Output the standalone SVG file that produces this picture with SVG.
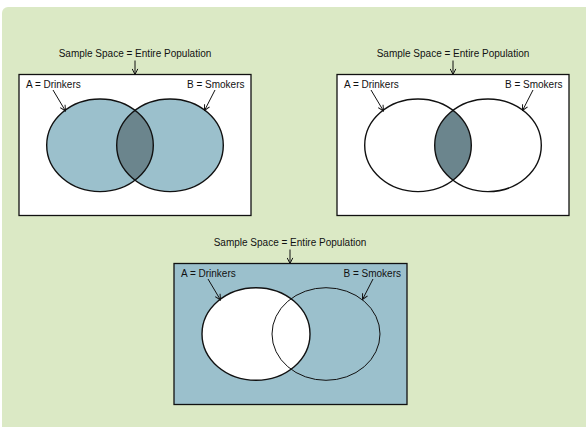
<svg xmlns="http://www.w3.org/2000/svg" width="586" height="427" viewBox="0 0 586 427">
<style>
text{font-family:"Liberation Sans",Arial,sans-serif;font-size:10px;fill:#111}
.frame{stroke:#111;stroke-width:1.3}
.ell{stroke:#111;stroke-width:1.4}
.thin{stroke:#111;stroke-width:1;fill:none}
.arr{stroke:#111;stroke-width:1;fill:none;marker-end:url(#ah)}
</style>
<defs>
<marker id="ah" viewBox="0 0 10 10" refX="9" refY="5" markerWidth="7" markerHeight="7" orient="auto" markerUnits="userSpaceOnUse">
<path d="M1,1 L9,5 L1,9" fill="none" stroke="#111" stroke-width="1.4"/>
</marker>
<clipPath id="c1"><ellipse cx="100" cy="145.3" rx="53.3" ry="46.3"/></clipPath>
<clipPath id="c2"><ellipse cx="418" cy="145.3" rx="53.3" ry="46.3"/></clipPath>
</defs>
<rect x="2" y="7" width="600" height="440" rx="6" fill="#dbe9c5"/>
<g id="panel1">
<text x="135" y="57" text-anchor="middle">Sample Space = Entire Population</text>
<rect class="frame" x="19" y="74.5" width="232" height="141" fill="#fff"/>
<ellipse cx="100" cy="145.3" rx="53.3" ry="46.3" fill="#9bc0cc"/>
<ellipse cx="170" cy="145.3" rx="53.3" ry="46.3" fill="#9bc0cc"/>
<ellipse cx="170" cy="145.3" rx="53.3" ry="46.3" fill="#6b858d" clip-path="url(#c1)"/>
<ellipse class="ell" cx="100" cy="145.3" rx="53.3" ry="46.3" fill="none"/>
<ellipse class="ell" cx="170" cy="145.3" rx="53.3" ry="46.3" fill="none"/>
<text x="26" y="88">A = Drinkers</text>
<text x="244.5" y="88" text-anchor="end">B = Smokers</text>
</g>
<g id="panel2">
<text x="453" y="57" text-anchor="middle">Sample Space = Entire Population</text>
<rect class="frame" x="337" y="74.5" width="232" height="141" fill="#fff"/>
<ellipse cx="488" cy="145.3" rx="53.3" ry="46.3" fill="#6b858d" clip-path="url(#c2)"/>
<ellipse class="ell" cx="418" cy="145.3" rx="53.3" ry="46.3" fill="none"/>
<ellipse class="ell" cx="488" cy="145.3" rx="53.3" ry="46.3" fill="none"/>
<text x="344" y="88">A = Drinkers</text>
<text x="562.5" y="88" text-anchor="end">B = Smokers</text>
</g>
<g id="panel3">
<text x="290" y="246" text-anchor="middle">Sample Space = Entire Population</text>
<rect class="frame" x="174" y="263.5" width="233" height="141" fill="#9bc0cc"/>
<ellipse class="ell" cx="256" cy="334" rx="54" ry="46.3" fill="#fff"/>
<ellipse class="thin" cx="326" cy="334" rx="54" ry="46.3"/>
<text x="181" y="277">A = Drinkers</text>
<text x="401" y="277" text-anchor="end">B = Smokers</text>
</g>
<g id="connectors">
<line class="arr" x1="135" y1="60.5" x2="135" y2="74.5"/>
<line class="arr" x1="53" y1="90" x2="65.5" y2="111"/>
<line class="arr" x1="215" y1="90" x2="204.5" y2="110.5"/>
<line class="arr" x1="453" y1="60.5" x2="453" y2="74.5"/>
<line class="arr" x1="371" y1="90" x2="383.5" y2="111"/>
<line class="arr" x1="533" y1="90" x2="522.5" y2="110.5"/>
<line class="arr" x1="290" y1="249.5" x2="290" y2="263.5"/>
<line class="arr" x1="208" y1="279" x2="220.5" y2="300"/>
<line class="arr" x1="373" y1="279" x2="362.5" y2="299.5"/>
</g>
</svg>
